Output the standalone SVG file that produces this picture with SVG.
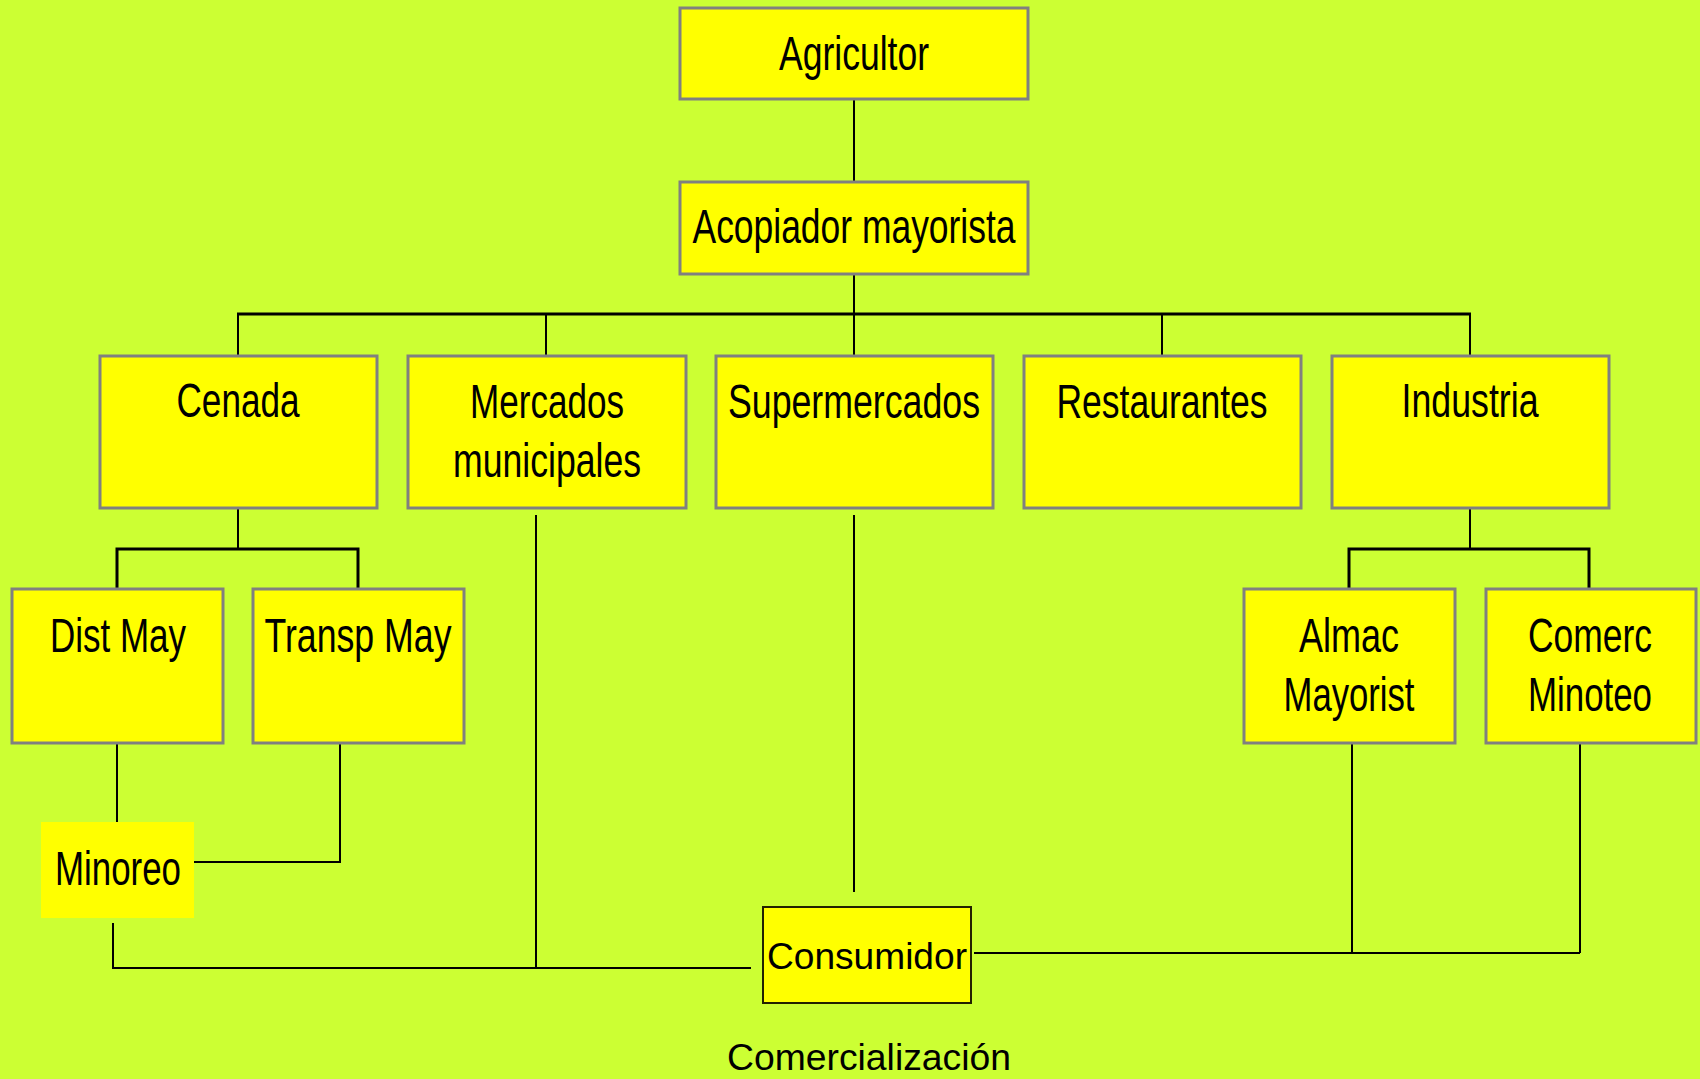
<svg xmlns="http://www.w3.org/2000/svg" width="1700" height="1079" viewBox="0 0 1700 1079">
<style>
.bx{fill:#FFFF00;stroke:#808080;stroke-width:3}
.t{font-family:"Liberation Sans Narrow","Liberation Sans",Arial,sans-serif;font-size:48px;fill:#000;text-anchor:middle}
.s{font-family:"Liberation Sans Narrow","Liberation Sans",Arial,sans-serif;font-size:36px;fill:#000;text-anchor:middle}
.c line,.c polyline{stroke:#000;stroke-width:2;fill:none}
.c .b{stroke-width:3}
</style>
<rect width="1700" height="1079" fill="#CCFF33"/>
<g class="c" id="connectors">
<line x1="854" y1="99" x2="854" y2="182"/>
<line x1="854" y1="274" x2="854" y2="355"/>
<line class="b" x1="237" y1="314" x2="1471" y2="314"/>
<line x1="238" y1="314" x2="238" y2="355"/>
<line x1="546" y1="314" x2="546" y2="355"/>
<line x1="1162" y1="314" x2="1162" y2="355"/>
<line x1="1470" y1="314" x2="1470" y2="355"/>
<line x1="238" y1="508" x2="238" y2="549"/>
<polyline class="b" points="117,589 117,549 358,549 358,589"/>
<line x1="1470" y1="508" x2="1470" y2="549"/>
<polyline class="b" points="1349,589 1349,549 1589,549 1589,589"/>
<line x1="117" y1="743" x2="117" y2="822"/>
<polyline points="340,743 340,862 189,862"/>
<polyline points="113,923 113,968 751,968"/>
<line x1="536" y1="515" x2="536" y2="968"/>
<line x1="854" y1="515" x2="854" y2="892"/>
<line x1="974" y1="953" x2="1580" y2="953"/>
<line x1="1352" y1="743" x2="1352" y2="953"/>
<line x1="1580" y1="743" x2="1580" y2="953"/>
</g>
<g id="agricultor"><rect class="bx" x="680" y="8" width="348" height="91"/><text class="t" x="854" y="70" textLength="150" lengthAdjust="spacingAndGlyphs">Agricultor</text></g>
<g id="acopiador"><rect class="bx" x="680" y="182" width="348" height="92"/><text class="t" x="854" y="243" textLength="323" lengthAdjust="spacingAndGlyphs">Acopiador mayorista</text></g>
<g id="cenada"><rect class="bx" x="100" y="356" width="277" height="152"/><text class="t" x="238" y="417" textLength="123" lengthAdjust="spacingAndGlyphs">Cenada</text></g>
<g id="mercados"><rect class="bx" x="408" y="356" width="278" height="152"/><text class="t" x="547" y="418" textLength="154" lengthAdjust="spacingAndGlyphs">Mercados</text><text class="t" x="547" y="477" textLength="188" lengthAdjust="spacingAndGlyphs">municipales</text></g>
<g id="supermercados"><rect class="bx" x="716" y="356" width="277" height="152"/><text class="t" x="854" y="418" textLength="252" lengthAdjust="spacingAndGlyphs">Supermercados</text></g>
<g id="restaurantes"><rect class="bx" x="1024" y="356" width="277" height="152"/><text class="t" x="1162" y="418" textLength="211" lengthAdjust="spacingAndGlyphs">Restaurantes</text></g>
<g id="industria"><rect class="bx" x="1332" y="356" width="277" height="152"/><text class="t" x="1470" y="417" textLength="137" lengthAdjust="spacingAndGlyphs">Industria</text></g>
<g id="distmay"><rect class="bx" x="12" y="589" width="211" height="154"/><text class="t" x="118" y="652" textLength="136" lengthAdjust="spacingAndGlyphs">Dist May</text></g>
<g id="transpmay"><rect class="bx" x="253" y="589" width="211" height="154"/><text class="t" x="358" y="652" textLength="187" lengthAdjust="spacingAndGlyphs">Transp May</text></g>
<g id="almac"><rect class="bx" x="1244" y="589" width="211" height="154"/><text class="t" x="1349" y="652" textLength="100" lengthAdjust="spacingAndGlyphs">Almac</text><text class="t" x="1349" y="711" textLength="131" lengthAdjust="spacingAndGlyphs">Mayorist</text></g>
<g id="comerc"><rect class="bx" x="1486" y="589" width="210" height="154"/><text class="t" x="1590" y="652" textLength="124" lengthAdjust="spacingAndGlyphs">Comerc</text><text class="t" x="1590" y="711" textLength="124" lengthAdjust="spacingAndGlyphs">Minoteo</text></g>
<g id="minoreo"><rect x="41" y="822" width="153" height="96" fill="#FFFF00"/><text class="t" x="118" y="885" textLength="126" lengthAdjust="spacingAndGlyphs">Minoreo</text></g>
<g id="consumidor"><rect x="763" y="907" width="208" height="96" fill="#FFFF00" stroke="#222200" stroke-width="2"/><text class="s" x="867" y="969" textLength="200" lengthAdjust="spacingAndGlyphs">Consumidor</text></g>
<g id="caption"><text class="s" x="869" y="1070" textLength="284" lengthAdjust="spacingAndGlyphs">Comercialización</text></g>
</svg>
